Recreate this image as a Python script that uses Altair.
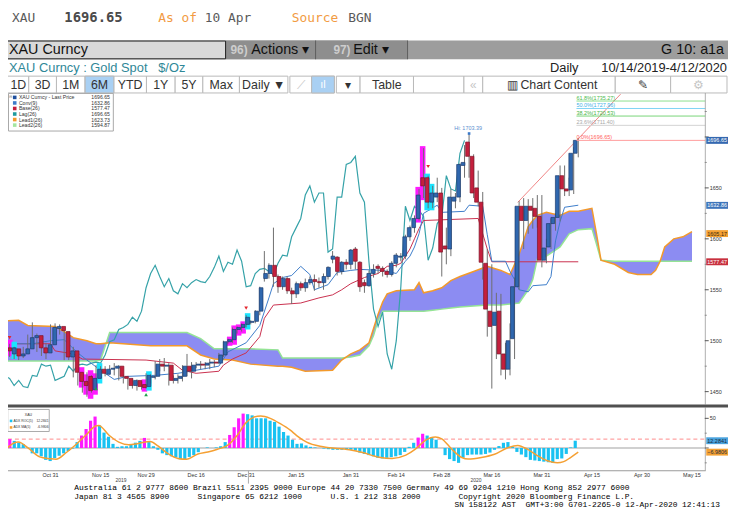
import altair as alt
import pandas as pd

# ---------------- values ----------------
# one slot per weekday: slot 1 = 15 Oct 2019 ... slot 129 = 10 Apr 2020
FIRST_SLOT = 1
OPEN = [1494,1482,1493,1487,1492,1485,1487,1492,1503,1505,
        1493,1488,1496,1512,1514,1509,1484,1490,1469,1460,
        1465,1452,1463,1472,1467,1472,1473,1475,1465,1463,
        1456,1461,1457,1455,1464,1465,1477,1475,1476,1461,
        1463,1465,1475,1470,1476,1477,1476,1478,1479,1478,
        1486,1499,1501,1511,1513,1516,1518,1519,1529,1561,
        1566,1574,1563,1553,1561,1549,1546,1556,1552,1557,
        1560,1558,1557,1563,1580,1582,1568,1577,1575,1590,
        1577,1557,1554,1566,1573,1571,1568,1565,1576,1582,
        1583,1602,1611,1620,1660,1660,1636,1641,1645,1593,
        1590,1637,1641,1672,1695,1681,1650,1636,1576,1529,
        1515,1529,1487,1472,1502,1553,1632,1618,1632,1630,
        1622,1579,1592,1615,1621,1662,1649,1648,1684]
HIGH = [1497,1494,1499,1497,1494,1490,1494,1506,1518,1507,
        1496,1498,1516,1517,1516,1512,1497,1494,1472,1465,
        1469,1466,1476,1475,1475,1476,1478,1476,1467,1464,
        1463,1462,1460,1468,1467,1480,1482,1483,1478,1466,
        1467,1476,1487,1479,1479,1480,1479,1482,1481,1488,
        1500,1502,1513,1514,1517,1525,1520,1530,1553,1588,
        1576,1611,1565,1563,1563,1552,1558,1558,1561,1563,
        1565,1562,1566,1573,1588,1583,1578,1580,1590,1592,
        1578,1560,1569,1575,1575,1573,1570,1578,1586,1586,
        1604,1613,1623,1649,1689,1662,1652,1660,1650,1611,
        1649,1645,1674,1692,1703.39,1683,1667,1646,1590,1575,
        1547,1546,1498,1517,1562,1637,1640,1639,1640,1643,
        1643,1600,1620,1625,1672,1672,1660,1690,1699]
LOW = [1478,1480,1487,1484,1482,1481,1483,1490,1500,1489,
       1485,1482,1494,1506,1506,1481,1481,1464,1456,1449,
       1445,1449,1460,1463,1465,1467,1466,1461,1458,1452,
       1453,1451,1452,1453,1458,1462,1470,1470,1456,1458,
       1458,1460,1465,1463,1473,1472,1472,1472,1474,1477,
       1484,1497,1498,1507,1509,1513,1516,1517,1525,1558,
       1561,1553,1547,1550,1546,1536,1542,1549,1548,1555,
       1549,1552,1550,1560,1576,1564,1565,1570,1570,1570,
       1548,1547,1553,1562,1566,1563,1562,1563,1572,1578,
       1580,1598,1606,1618,1640,1630,1630,1636,1563,1575,
       1583,1630,1636,1660,1660,1640,1632,1560,1504,1453,
       1482,1466,1462,1466,1482,1550,1590,1605,1610,1611,
       1572,1576,1590,1608,1617,1642,1642,1644,1680]
CLOSE = [1481,1491,1490,1493,1485,1487,1492,1503,1505,1493,
         1488,1496,1513,1514,1510,1484,1490,1469,1460,1456,
         1451,1463,1472,1468,1472,1473,1475,1465,1463,1456,
         1461,1455,1454,1466,1465,1477,1475,1476,1461,1463,
         1465,1475,1470,1476,1477,1476,1478,1479,1478,1486,
         1499,1501,1511,1513,1516,1523,1519,1529,1552,1566,
         1574,1563,1553,1561,1549,1546,1556,1552,1557,1560,
         1558,1557,1563,1572,1583,1568,1577,1575,1589,1578,
         1553,1554,1566,1570,1571,1568,1565,1576,1584,1583,
         1602,1611,1620,1643,1652,1636,1645,1645,1587,1590,
         1641,1641,1673,1675,1681,1645,1636,1577,1531,1514,
         1528,1487,1472,1500,1553,1632,1618,1632,1628,1622,
         1579,1591,1615,1621,1662,1649,1647,1684,1696.65]
LAG_SHIFT = 25

MAGENTA_SLOTS = [3, 19, 20, 21, 22, 33, 52, 53, 54, 55, 94, 95]
CYAN_SLOTS = [4, 23, 34, 56, 96, 97]
SELL_SLOTS = [4, 56, 96]
SELL_PRICES = [1503, 1532, 1671]
BUY_SLOTS = [23, 34]
BUY_PRICES = [1453, 1447]

CONV_SLOT = [0, 9, 13, 16, 19, 21, 24, 27, 30, 36, 41, 45, 50, 52, 56, 59, 61, 62, 64, 66,
             68, 70, 71, 74, 76, 79, 81, 86, 89, 91, 92, 93, 94, 95, 98, 99, 104, 105, 108, 109,
             110, 113, 114, 115, 116, 118, 119, 122, 123, 124, 125, 126, 129]
CONV = [1497, 1497, 1500, 1501, 1488, 1481, 1471, 1462, 1465, 1466, 1468, 1471, 1475, 1489, 1498, 1515, 1542, 1556, 1562, 1564,
        1573, 1565, 1550, 1555, 1567, 1569, 1570, 1569, 1566, 1578, 1583, 1592, 1605, 1625, 1633, 1626, 1627, 1633, 1632, 1604,
        1578, 1578, 1568, 1560, 1550, 1548, 1554, 1555, 1563, 1598, 1617, 1631, 1633]
BASE_SLOT = [0, 13, 14, 18, 20, 34, 40, 42, 45, 50, 51, 53, 56, 59, 60, 62, 68, 72, 75, 77,
             79, 82, 85, 87, 89, 90, 92, 93, 94, 95, 107, 108, 109, 110, 129]
BASE = [1497, 1497, 1490, 1487, 1482, 1481, 1478, 1471, 1468, 1470, 1476, 1482, 1488, 1504, 1522, 1535, 1537, 1542, 1545, 1550,
        1556, 1562, 1566, 1573, 1574, 1576, 1590, 1600, 1610, 1618, 1620, 1605, 1590, 1577.47, 1577.47]
CLOUD_SLOT = [0, 6, 8, 14, 16, 18, 21, 23, 24, 26, 35, 43, 46, 49, 53, 57, 63, 64, 66, 69,
              75, 77, 79, 81, 83, 84, 85, 86, 87, 89, 93, 94, 95, 97, 99, 101, 103, 106, 109, 112,
              114, 116, 118, 119, 120, 122, 125, 127, 129, 132, 133, 134, 137, 140, 142, 145, 146, 147, 148, 150,
              152, 154]
LEAD1 = [1519, 1520, 1515, 1514, 1509, 1503, 1500, 1497, 1497, 1498, 1495, 1495, 1486, 1482, 1481, 1477, 1475, 1475, 1474, 1470,
         1471, 1481, 1487, 1491, 1498, 1512, 1526, 1538, 1546, 1549, 1550, 1557, 1547, 1549, 1552, 1559, 1563, 1568, 1573, 1569,
         1565, 1585, 1612, 1618, 1623, 1626, 1623, 1627, 1627, 1630, 1605, 1579, 1575, 1567, 1565, 1565, 1569, 1578, 1592, 1600,
         1602, 1607]
LEAD2 = [1480, 1480, 1480, 1480, 1480, 1480, 1480, 1480, 1481, 1508, 1508, 1508, 1502, 1492, 1492, 1492, 1491, 1483, 1483, 1483,
         1483, 1483, 1484, 1486, 1495, 1505, 1520, 1529, 1529, 1529, 1529, 1529, 1529, 1530, 1531, 1532, 1533, 1534, 1535, 1535,
         1536, 1537, 1550, 1560, 1580, 1583, 1592, 1605, 1609, 1610, 1595, 1579, 1578, 1578, 1578, 1578, 1578, 1578, 1578, 1578,
         1578, 1578]

TREND_SLOT = [115.7, 138.3]
TREND_PRICE = [1635.8, 1742.0]
HI_SLOT = 105
HI_PRICE = 1703.39

FIB_PCT = ["61.8%", "50.0%", "38.2%", "23.6%", "0.0%"]
FIB_LEVEL = [1735.27, 1727.96, 1720.53, 1711.40, 1696.65]
FIB_FROM = 128.6

PRICE_TICKS = [1450, 1500, 1550, 1600, 1650, 1700]
PRICE_LABELS = [1450, 1500, 1550, 1600, 1650]
PRICE_MINOR = [1475, 1525, 1575, 1625, 1675, 1725]
BADGE_KIND = ["last", "conv", "lead", "base"]
BADGE_VALUE = [1696.65, 1632.86, 1605.17, 1577.47]

ROC = [6,
       10, 15, 12, 9, 6.6, 0.5, -9, -9, -14, -20, -22, -17, -13, -9, -5, -1, 10, 21, 32, 46,
       53, 38, 26, 19, 7, 2, 3, 3, 5.5, 9, 12, 17, 10, 3, -3, -9, -12, -14, -16, -19,
       -19, -15, -12, -7, 0, 1, 0, 1, 3, 10, 22, 35, 50, 58, 57, 55, 50, 50, 50, 46,
       44, 36, 27, 21, 14, 7,
       7.7, 4.4, 2, 1, 0, -1, -2, -3, -3, -3, -3, -3, -4.4, -7.7, -10, -12, -14, -16.5, -17.6, -16.5,
       -15.4, -14, -12, -6.6, 2, 8.8, 17.6, 24, 21, 17.6, 14, 0, -12, -18.7, -22, -25, -16.5, -12, -11, -11,
       -11, -10, -7.7, -3, 3.3, 8.8, 10, 2, -6.6, -11, -15.4, -20, -21, -22, -23, -24, -25, -18.7, -17.6, -10,
       1, 12.2841]
MA_SLOT = [1.9, 5.9, 8.4, 10.6, 12.8, 14.2, 16.4, 18.6, 20.8, 22.9, 23.6, 25.8, 28, 30.2, 32.3, 34.9, 36.7, 38.9, 41, 42.9,
           45.4, 47.6, 49.7, 51.9, 54.1, 55.9, 57.7, 59.2, 61.3, 63.5, 65.7, 67.1, 69.3, 72.9, 78.7, 81.6, 85.2, 88.1, 91.1, 93.2,
           95.4, 97.6, 99, 101.2, 103.4, 104.8, 107.7, 110.6, 113.5, 115.7, 117.8, 120, 122.2, 124.4, 125.8, 127.3, 129]
MA = [-13, 10, -2, -15, -18, -19, -8, 6, 22, 37, 38, 22, 10, 5.5, 7.7, 11, 3, -10, -17.6, -19,
      -10, -6.6, -2, 4.4, 22, 42, 52, 54, 50, 41, 30, 21, 10, 2, -3, -7.7, -15.4, -17.6, -12, -2,
      13, 18.7, 15.4, -2, -16, -18.7, -16, -10.5, 0.5, 4.4, -2, -13, -21.5, -25, -23, -16, -6.9806]
OSC_THRESHOLD = 15
OSC_TICKS = [50, 0]
OSC_MINOR = [25, -25]
OSC_BADGE_KIND = ["roc", "ma"]
OSC_BADGE_VALUE = [12.2841, -6.9806]

DATE_SLOT = [13, 24, 34, 45, 56, 67, 79, 89, 99, 110, 121, 132, 143, 154]
DATE_LABEL = ["Oct 31", "Nov 15", "Nov 29", "Dec 16", "Dec 31", "Jan 15", "Jan 31", "Feb 14",
              "Feb 28", "Mar 16", "Mar 31", "Apr 15", "Apr 30", "May 15"]
YEAR_SLOT = [28.5, 106.5]
YEAR_LABEL = ["2019", "2020"]
YEAR_BREAK = 56.5

LEGEND_NAME = ["XAU Curncy - Last Price", "Conv(9)", "Base(26)", "Lag(26)", "Lead1(26)", "Lead2(26)"]
LEGEND_VALUE = ["1696.65", "1632.86", "1577.47", "1696.65", "1623.73", "1594.87"]

# ---------------- colours ----------------
C_UP, C_DOWN = "#2f67ae", "#c41f3d"
C_CONV, C_BASE, C_LAG = "#3d7cc9", "#c9304e", "#35a2a8"
C_LEAD1, C_LEAD2, C_CLOUD = "#f39a2b", "#95e495", "#8c8cf2"
C_ROC, C_MAG, C_MA = "#19c2f2", "#ff1aff", "#f5a033"

# ---------------- scales ----------------
X_SLOT = alt.Scale(domain=[0, 160], range=[-16.8, 719.2], nice=False, zero=False)
Y_PRICE = alt.Scale(domain=[1400, 1760], range=[436.5, 65.7], nice=False, zero=False)
Y_OSC = alt.Scale(domain=[-60, 80], range=[478, 394], nice=False, zero=False)
PX = alt.Scale(domain=[8, 736], range=[0, 728], nice=False, zero=False)
PY = alt.Scale(domain=[8, 530], range=[0, 522], nice=False, zero=False)

SANS = "Liberation Sans"
MONO = "Liberation Mono"
NB = "\u00a0"


def XS(f):
    return alt.X(f"{f}:Q", scale=X_SLOT, axis=None)


def YP(f):
    return alt.Y(f"{f}:Q", scale=Y_PRICE, axis=None)


def YO(f):
    return alt.Y(f"{f}:Q", scale=Y_OSC, axis=None)


def ui_text(rows, size, color, font=SANS, align="left", weight="normal"):
    df = pd.DataFrame(rows, columns=["x", "y", "t"])
    return alt.Chart(df).mark_text(font=font, fontSize=size, color=color, align=align,
                                   baseline="middle", fontWeight=weight).encode(
        x=alt.X("x:Q", scale=PX, axis=None), y=alt.Y("y:Q", scale=PY, axis=None), text="t:N")


def ui_box(rows, fill, stroke=None, sw=1.0):
    df = pd.DataFrame(rows, columns=["x1", "x2", "y1", "y2"])
    kw = {"fill": fill}
    if stroke:
        kw.update(stroke=stroke, strokeWidth=sw)
    else:
        kw.update(strokeWidth=0)
    return alt.Chart(df).mark_rect(**kw).encode(
        x=alt.X("x1:Q", scale=PX, axis=None), x2="x2:Q",
        y=alt.Y("y1:Q", scale=PY, axis=None), y2="y2:Q")


layers = []

# ---------------- header / toolbar ----------------
layers += [
    ui_text([(12, 15.5, "XAU")], 13, "#5a5a5a", font="DejaVu Sans Mono"),
    ui_text([(65, 15.5, "1696.65")], 14, "#4a4a4a", font="DejaVu Sans Mono", weight="bold"),
    ui_text([(160, 15.5, "As of"), (295, 15.5, "Source")], 13, "#f29b43", font="DejaVu Sans Mono"),
    ui_text([(207, 15.5, "10 Apr"), (352, 15.5, "BGN")], 13, "#5a5a5a", font="DejaVu Sans Mono"),
    ui_box([(0, 736, 38, 57)], "#9d9d9d"),
    ui_box([(228, 412, 38, 57)], "#8e8e8e"),
    ui_box([(318.5, 319.5, 38, 57), (411.5, 412.5, 38, 57)], "#5e5e5e"),
    ui_box([(0.5, 228, 38.5, 56.5)], "#d9d9d9", stroke="#1e1e1e"),
    ui_text([(9, 48, "XAU Curncy")], 14.5, "#111111"),
    ui_text([(233, 48, "96)"), (337, 48, "97)")], 12, "#cdcdcd", weight="bold"),
    ui_text([(254, 48, "Actions ▾"), (357, 48, "Edit ▾")], 14.5, "#111111"),
    ui_text([(732, 48, "G 10: a1a")], 14.5, "#111111", align="right"),
    ui_text([(9, 66, "XAU Curncy : Gold Spot" + NB * 3 + "$/Oz")], 13, "#2f8797"),
    ui_text([(556, 66, "Daily")], 13, "#222222"),
    ui_text([(735, 66, "10/14/2019-4/12/2020")], 13, "#222222", align="right"),
]
BUTTONS = [(2, 29, "1D"), (29, 57, "3D"), (57, 86, "1M"), (86, 115, "6M"), (115, 148, "YTD"),
           (148, 177, "1Y"), (177, 205, "5Y"), (205, 242, "Max"), (242, 291, "Daily ▼"),
           (293, 315, ""), (315, 338, ""), (340, 364, "▾"), (364, 418, "Table"), (418, 469, ""),
           (469, 488, ""), (488, 622, ""), (622, 678, ""), (678, 735, "")]
SELECTED = ["6M"]
layers.append(ui_box([(a, b, 74, 91) for a, b, t in BUTTONS], "#ffffff", stroke="#b9b9b9"))
layers.append(ui_box([(a, b, 74, 91) for a, b, t in BUTTONS if t in SELECTED] + [(315, 338, 74, 91)],
                     "#a9d0f3", stroke="#b9b9b9"))
layers.append(ui_text([((a + b) / 2 + (3 if a < 8 else 0), 83, t) for a, b, t in BUTTONS if t],
                      12.5, "#333333", align="center"))
layers += [
    ui_text([(565, 83, "Chart Content")], 12.5, "#333333", align="center"),
    ui_text([(518, 83, "▥"), (650, 83, "✎")], 12, "#333333", align="center"),
    ui_text([(304, 83, "⟋"), (478.5, 83, "«"), (706.5, 83, "⚙")], 12, "#c6c6c6", align="center"),
    ui_text([(326.5, 83, "ıl")], 11, "#ffffff", align="center"),
]

# ---------------- main price panel ----------------
cdf = pd.DataFrame({"s": list(range(FIRST_SLOT, FIRST_SLOT + len(CLOSE))),
                    "o": OPEN, "h": HIGH, "l": LOW, "c": CLOSE})
cdf["dir"] = ["up" if c >= o else "down" for o, c in zip(OPEN, CLOSE)]

cloud = pd.DataFrame({"s": CLOUD_SLOT, "a": LEAD1, "b": LEAD2})
layers.append(alt.Chart(cloud).mark_area(color=C_CLOUD, opacity=1).encode(x=XS("s"), y=YP("a"), y2="b:Q"))
layers.append(alt.Chart(cloud).mark_line(color=C_LEAD2, strokeWidth=1.5).encode(x=XS("s"), y=YP("b")))
layers.append(alt.Chart(cloud).mark_line(color=C_LEAD1, strokeWidth=1.5).encode(x=XS("s"), y=YP("a")))

lag = pd.DataFrame({"s": cdf["s"] - LAG_SHIFT, "v": cdf["c"]})
lag = lag[lag["s"] >= 0]
layers.append(alt.Chart(lag).mark_line(color=C_LAG, strokeWidth=1.2).encode(x=XS("s"), y=YP("v")))
layers.append(alt.Chart(pd.DataFrame({"s": BASE_SLOT, "v": BASE})).mark_line(
    color=C_BASE, strokeWidth=1).encode(x=XS("s"), y=YP("v")))
layers.append(alt.Chart(pd.DataFrame({"s": CONV_SLOT, "v": CONV})).mark_line(
    color=C_CONV, strokeWidth=1).encode(x=XS("s"), y=YP("v")))
layers.append(alt.Chart(pd.DataFrame({"s": TREND_SLOT, "v": TREND_PRICE})).mark_line(
    color="#f08484", strokeWidth=1).encode(x=XS("s"), y=YP("v")))

hl = cdf[cdf["s"].isin(MAGENTA_SLOTS + CYAN_SLOTS)].copy()
hl["k"] = ["mag" if s in MAGENTA_SLOTS else "cyan" for s in hl["s"]]
layers.append(alt.Chart(hl).transform_calculate(lo="datum.l - 2", hi="datum.h + 2").mark_bar(size=5.6).encode(
    x=XS("s"), y=YP("lo"), y2="hi:Q",
    color=alt.Color("k:N", scale=alt.Scale(domain=["mag", "cyan"], range=[C_MAG, "#1ae4ff"]), legend=None)))

layers.append(alt.Chart(cdf).mark_rule(color="#6e6e6e", strokeWidth=1).encode(x=XS("s"), y=YP("l"), y2="h:Q"))
layers.append(alt.Chart(cdf).mark_bar(size=3.8, strokeWidth=0.7).encode(
    x=XS("s"), y=YP("o"), y2="c:Q",
    color=alt.Color("dir:N", scale=alt.Scale(domain=["up", "down"], range=[C_UP, C_DOWN]), legend=None),
    stroke=alt.Stroke("dir:N", scale=alt.Scale(domain=["up", "down"], range=["#1b3c6e", "#7d1427"]), legend=None)))

layers.append(alt.Chart(pd.DataFrame({"s": SELL_SLOTS, "p": SELL_PRICES})).mark_point(
    shape="triangle-down", filled=True, size=14, color="#e3262e", opacity=1).encode(x=XS("s"), y=YP("p")))
layers.append(alt.Chart(pd.DataFrame({"s": BUY_SLOTS, "p": BUY_PRICES})).mark_point(
    shape="triangle-up", filled=True, size=14, color="#1f9e4a", opacity=1).encode(x=XS("s"), y=YP("p")))

hi = pd.DataFrame({"s": [HI_SLOT], "p": [HI_PRICE], "t": [f"Hi: {HI_PRICE:.2f}"]})
layers.append(alt.Chart(hi).mark_point(shape="square", filled=True, size=7, color="#3a78c8", opacity=1).encode(
    x=XS("s"), y=YP("p")))
layers.append(alt.Chart(hi).mark_text(font=SANS, fontSize=5.5, color="#5b8fd0", align="center", dy=-6, dx=-1).encode(
    x=XS("s"), y=YP("p"), text="t:N"))

fib = pd.DataFrame({"pct": FIB_PCT, "lvl": FIB_LEVEL, "s": [FIB_FROM] * len(FIB_PCT)})
fib["label"] = [f"{p}({v:.2f})" for p, v in zip(FIB_PCT, FIB_LEVEL)]
layers.append(alt.Chart(fib).mark_rule(strokeWidth=1).encode(
    x=XS("s"), x2=alt.value(705), y=YP("lvl"),
    color=alt.Color("pct:N", scale=alt.Scale(domain=FIB_PCT, range=["#8ee08e", "#7fd3f5", "#78d478", "#d2d2d2", "#ff9c9c"]),
                    legend=None)))
layers.append(alt.Chart(fib).mark_text(font=SANS, fontSize=5.5, align="left", baseline="bottom", dy=-0.5).encode(
    x=XS("s"), y=YP("lvl"), text="label:N",
    color=alt.Color("pct:N", scale=alt.Scale(domain=FIB_PCT, range=["#4dbb4d", "#3fb1e6", "#45b545", "#a9a9a9", "#ff6060"]),
                    legend=None)))

# right price axis
layers.append(ui_box([(712.6, 713.4, 91, 406), (712.6, 713.4, 409, 473), (0, 713.4, 472.6, 473.4)], "#9a9a9a"))
layers.append(alt.Chart(pd.DataFrame({"p": PRICE_TICKS})).mark_rule(color="#555555", strokeWidth=1).encode(
    y=YP("p"), x=alt.value(704.5), x2=alt.value(708.5)))
layers.append(alt.Chart(pd.DataFrame({"p": PRICE_MINOR})).mark_rule(color="#888888", strokeWidth=1).encode(
    y=YP("p"), x=alt.value(704.5), x2=alt.value(706.5)))
layers.append(alt.Chart(pd.DataFrame({"p": PRICE_LABELS})).mark_text(
    font=SANS, fontSize=5.5, color="#333333", align="left", baseline="middle").encode(
    y=YP("p"), x=alt.value(709.5), text=alt.Text("p:Q", format="d")))
bd = pd.DataFrame({"v": BADGE_VALUE, "k": BADGE_KIND})
layers.append(alt.Chart(bd).transform_calculate(lo="datum.v - 3.4", hi="datum.v + 3.4").mark_rect().encode(
    x=alt.value(706), x2=alt.value(728), y=YP("lo"), y2="hi:Q",
    color=alt.Color("k:N", scale=alt.Scale(domain=BADGE_KIND, range=["#3468b0", "#3d74ba", "#f4a133", "#c8303e"]),
                    legend=None)))
layers.append(alt.Chart(bd).mark_text(font=SANS, fontSize=5.5, align="center", baseline="middle").encode(
    x=alt.value(717), y=YP("v"), text=alt.Text("v:Q", format=".2f"),
    color=alt.Color("k:N", scale=alt.Scale(domain=BADGE_KIND, range=["#ffffff", "#ffffff", "#3a2a10", "#ffffff"]),
                    legend=None)))

# main legend
LX = 7
layers.append(ui_box([(1.5 + LX, 107.5 + LX, 91.5, 129.5)], "#ffffff", stroke="#a8a8a8"))
LEG_Y = [95.5, 101.1, 106.7, 112.3, 117.9, 123.5]
legsq = pd.DataFrame({"x1": 6 + LX, "x2": 9.6 + LX, "y1": [y - 1.8 for y in LEG_Y], "y2": [y + 1.8 for y in LEG_Y],
                      "n": LEGEND_NAME})
layers.append(alt.Chart(legsq).mark_rect().encode(
    x=alt.X("x1:Q", scale=PX, axis=None), x2="x2:Q", y=alt.Y("y1:Q", scale=PY, axis=None), y2="y2:Q",
    color=alt.Color("n:N", scale=alt.Scale(domain=LEGEND_NAME,
                                           range=["#1f4f9c", "#3d7cc9", "#c41f3d", "#1e9a9e", "#f39a2b", "#a4e6a0"]),
                    legend=None)))
layers.append(ui_text([(12 + LX, y, n) for y, n in zip(LEG_Y, LEGEND_NAME)], 5.2, "#333333"))
layers.append(ui_text([(104 + LX, y, v) for y, v in zip(LEG_Y, LEGEND_VALUE)], 5.2, "#333333", align="right"))
layers.append(ui_text([(3.4 + LX, 95.5, "⊟")], 4.5, "#888888", align="center"))

# splitter
layers.append(ui_box([(0, 736, 406, 409)], "#505050"))

# ---------------- oscillator panel ----------------
osc = pd.DataFrame({"s": list(range(FIRST_SLOT, FIRST_SLOT + len(ROC))), "v": ROC})
osc["k"] = ["mag" if s in MAGENTA_SLOTS else "roc" for s in osc["s"]]
layers.append(alt.Chart(pd.DataFrame({"v": [0]})).mark_rule(color="#d0d0d0", strokeWidth=2).encode(
    y=YO("v"), x=alt.value(0), x2=alt.value(705)))
layers.append(alt.Chart(pd.DataFrame({"v": [OSC_THRESHOLD]})).mark_rule(
    color="#ff8a8a", strokeWidth=1, strokeDash=[4, 3]).encode(y=YO("v"), x=alt.value(0), x2=alt.value(705)))
layers.append(alt.Chart(osc).transform_calculate(z="0").mark_bar(size=3.2).encode(
    x=XS("s"), y=YO("v"), y2="z:Q",
    color=alt.Color("k:N", scale=alt.Scale(domain=["roc", "mag"], range=[C_ROC, C_MAG]), legend=None)))
layers.append(alt.Chart(pd.DataFrame({"s": MA_SLOT, "v": MA})).mark_line(
    color=C_MA, strokeWidth=1.5, interpolate="monotone").encode(x=XS("s"), y=YO("v")))

layers.append(alt.Chart(pd.DataFrame({"v": OSC_TICKS})).mark_rule(color="#555555", strokeWidth=1).encode(
    y=YO("v"), x=alt.value(704.5), x2=alt.value(708.5)))
layers.append(alt.Chart(pd.DataFrame({"v": OSC_MINOR})).mark_rule(color="#888888", strokeWidth=1).encode(
    y=YO("v"), x=alt.value(704.5), x2=alt.value(706.5)))
layers.append(alt.Chart(pd.DataFrame({"v": [OSC_TICKS[0]]})).mark_text(
    font=SANS, fontSize=5.5, color="#333333", align="left", baseline="middle").encode(
    y=YO("v"), x=alt.value(709.5), text=alt.Text("v:Q", format="d")))
ob = pd.DataFrame({"v": OSC_BADGE_VALUE, "k": OSC_BADGE_KIND})
layers.append(alt.Chart(ob).transform_calculate(lo="datum.v - 5.8", hi="datum.v + 5.8").mark_rect().encode(
    x=alt.value(706), x2=alt.value(728), y=YO("lo"), y2="hi:Q",
    color=alt.Color("k:N", scale=alt.Scale(domain=OSC_BADGE_KIND, range=["#4aa3de", "#f4a133"]), legend=None)))
layers.append(alt.Chart(ob).mark_text(font=SANS, fontSize=5.5, align="center", baseline="middle", color="#1b2b3b").encode(
    x=alt.value(717), y=YO("v"), text=alt.Text("v:Q", format=".4f")))

# oscillator legend
layers += [
    ui_box([(0.7 + LX, 42.7 + LX, 411, 433.3)], "#ffffff", stroke="#aaaaaa"),
    ui_text([(21.7 + LX, 416.5, "XAU")], 3.6, "#333333", align="center"),
    ui_box([(2.8 + LX, 5.4 + LX, 421.3, 423.9)], C_ROC),
    ui_box([(2.8 + LX, 5.4 + LX, 427.9, 430.5)], C_MA),
    ui_text([(6.5 + LX, 422.6, "ADX ROC(5)"), (6.5 + LX, 429.2, "ADX MA(5)")], 3.4, "#333333"),
    ui_text([(42 + LX, 422.6, "12.2841"), (42 + LX, 429.2, "-6.9806")], 3.4, "#333333", align="right"),
]

# time axis
layers.append(alt.Chart(pd.DataFrame({"s": DATE_SLOT, "t": DATE_LABEL})).mark_text(
    font=SANS, fontSize=5.5, color="#333333", align="center", baseline="middle").encode(
    x=XS("s"), y=alt.value(469), text="t:N"))
layers.append(alt.Chart(pd.DataFrame({"s": YEAR_SLOT, "t": YEAR_LABEL})).mark_text(
    font=SANS, fontSize=5, color="#444444", align="center", baseline="middle").encode(
    x=XS("s"), y=alt.value(474.8), text="t:N"))
layers.append(alt.Chart(pd.DataFrame({"s": [YEAR_BREAK]})).mark_rule(color="#aaaaaa", strokeWidth=1).encode(
    x=XS("s"), y=alt.value(465), y2=alt.value(478)))

# ---------------- footer ----------------
def mono(s):
    return s.replace(" ", NB)


FOOT1 = "Australia 61 2 9777 8600 Brazil 5511 2395 9000 Europe 44 20 7330 7500 Germany 49 69 9204 1210 Hong Kong 852 2977 6000"
FOOT2 = ("Japan 81 3 4565 8900" + " " * 6 + "Singapore 65 6212 1000" + " " * 6 + "U.S. 1 212 318 2000"
         + " " * 8 + "Copyright 2020 Bloomberg Finance L.P.")
FOOT3 = "SN 158122 AST  GMT+3:00 G701-2265-0 12-Apr-2020 12:41:13"
layers.append(ui_text([(75, 490.8, mono(FOOT1)), (75, 499.2, mono(FOOT2))], 8.0, "#000000", font=MONO))
layers.append(ui_text([(728, 507.6, mono(FOOT3))], 8.0, "#000000", font=MONO, align="right"))

chart = alt.layer(*layers).resolve_scale(
    x="independent", y="independent", color="independent", stroke="independent"
).properties(
    width=728, height=522, autosize=alt.AutoSizeParams(type="none"), padding=0, background="white"
).configure_view(stroke=None)

chart.save("out.html", embed_options={"renderer": "svg", "actions": False})
